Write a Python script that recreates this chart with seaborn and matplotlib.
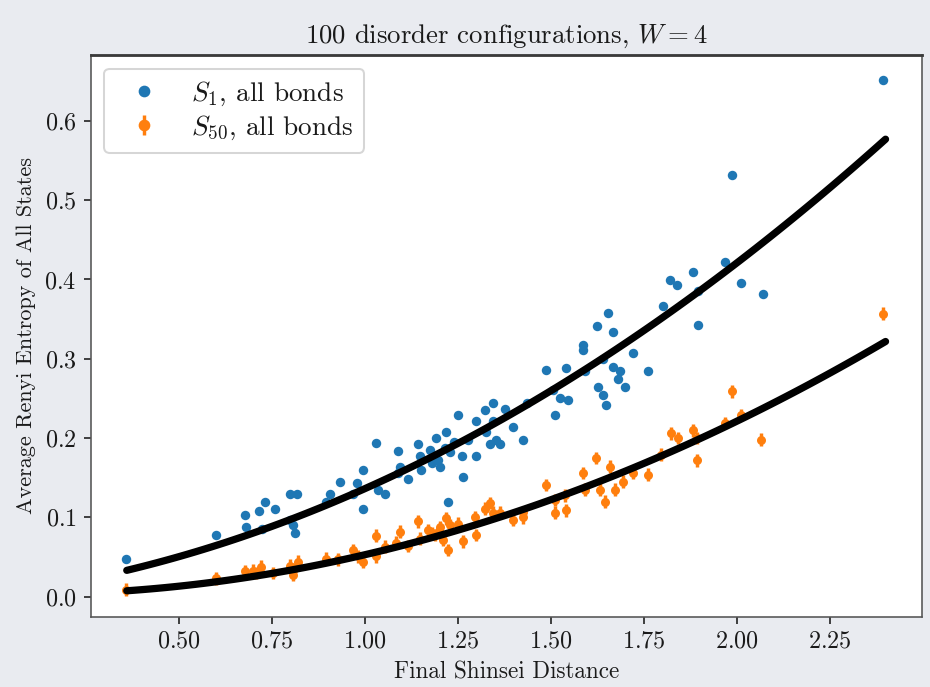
import matplotlib
matplotlib.use("Agg")
import matplotlib.pyplot as plt
from matplotlib.lines import Line2D
import seaborn as sns

# ---------------- data ----------------
s1_x = [0.359, 0.601, 0.679, 0.681, 0.715, 0.731, 0.758, 0.724, 0.798, 0.819,
        0.807, 0.811, 0.798, 0.897, 0.906, 0.933, 0.969, 0.978, 0.995, 0.995,
        1.031, 1.035, 1.053, 1.090, 1.094, 1.090, 1.116, 1.143, 1.148, 1.152,
        1.174, 1.180, 1.192, 1.197, 1.201, 1.215, 1.219, 1.224, 1.230, 1.240,
        1.251, 1.260, 1.264, 1.278, 1.300, 1.300, 1.323, 1.345, 1.327, 1.336,
        1.345, 1.354, 1.363, 1.376, 1.399, 1.426, 1.435, 1.488, 1.506, 1.511,
        1.524, 1.546, 1.542, 1.587, 1.587, 1.591, 1.623, 1.627, 1.640, 1.640,
        1.649, 1.654, 1.666, 1.667, 1.681, 1.685, 1.700, 1.721, 1.761, 1.802,
        1.820, 1.838, 1.883, 1.896, 1.896, 1.968, 1.986, 2.012, 2.070, 2.393]
s1_y = [0.047, 0.078, 0.103, 0.088, 0.108, 0.120, 0.110, 0.086, 0.130, 0.130,
        0.090, 0.080, 0.097, 0.120, 0.130, 0.145, 0.130, 0.143, 0.160, 0.111,
        0.194, 0.135, 0.130, 0.184, 0.164, 0.156, 0.149, 0.193, 0.177, 0.160,
        0.185, 0.168, 0.200, 0.172, 0.164, 0.187, 0.208, 0.120, 0.182, 0.195,
        0.229, 0.177, 0.151, 0.198, 0.221, 0.178, 0.235, 0.244, 0.208, 0.193,
        0.221, 0.198, 0.193, 0.237, 0.214, 0.198, 0.244, 0.286, 0.261, 0.229,
        0.250, 0.248, 0.288, 0.317, 0.311, 0.284, 0.341, 0.265, 0.300, 0.254,
        0.242, 0.358, 0.334, 0.290, 0.275, 0.284, 0.265, 0.307, 0.284, 0.366,
        0.399, 0.393, 0.410, 0.385, 0.343, 0.422, 0.532, 0.396, 0.382, 0.652]

s50_x = [0.359, 0.601, 0.677, 0.700, 0.708, 0.722, 0.753, 0.798, 0.807, 0.810,
         0.820, 0.897, 0.928, 0.969, 0.983, 0.995, 1.031, 1.031, 1.053, 1.085,
         1.094, 1.116, 1.143, 1.148, 1.170, 1.180, 1.188, 1.200, 1.201, 1.210,
         1.219, 1.224, 1.230, 1.251, 1.264, 1.296, 1.300, 1.323, 1.336, 1.345,
         1.363, 1.399, 1.426, 1.426, 1.488, 1.511, 1.511, 1.542, 1.537, 1.587,
         1.591, 1.622, 1.631, 1.645, 1.658, 1.672, 1.694, 1.721, 1.761, 1.797,
         1.824, 1.842, 1.883, 1.892, 1.892, 1.968, 1.986, 2.012, 2.066, 2.393]
s50_y = [0.009, 0.023, 0.032, 0.033, 0.030, 0.038, 0.030, 0.039, 0.028, 0.035,
         0.044, 0.048, 0.047, 0.059, 0.051, 0.044, 0.077, 0.051, 0.063, 0.068,
         0.082, 0.064, 0.095, 0.073, 0.084, 0.080, 0.078, 0.083, 0.088, 0.072,
         0.099, 0.059, 0.090, 0.092, 0.070, 0.100, 0.078, 0.111, 0.118, 0.106,
         0.106, 0.097, 0.100, 0.107, 0.141, 0.122, 0.106, 0.109, 0.128, 0.156,
         0.135, 0.175, 0.135, 0.120, 0.164, 0.135, 0.145, 0.156, 0.154, 0.179,
         0.206, 0.200, 0.210, 0.200, 0.172, 0.219, 0.259, 0.229, 0.198, 0.357]

s1_err = 0.004
s50_err = 0.008

# points on the fitted curves
fit1_x = [0.36, 0.50, 0.72, 0.99, 1.20, 1.35, 1.52, 1.74, 1.88, 2.03, 2.17, 2.30, 2.40]
fit1_y = [0.033, 0.050, 0.085, 0.135, 0.181, 0.217, 0.264, 0.332, 0.380, 0.431, 0.487, 0.537, 0.574]
fit50_x = [0.36, 0.48, 0.60, 0.72, 0.99, 1.20, 1.35, 1.49, 1.62, 1.76, 1.89, 2.03, 2.20, 2.40]
fit50_y = [0.008, 0.011, 0.019, 0.028, 0.053, 0.076, 0.097, 0.121, 0.144, 0.169, 0.197, 0.228, 0.272, 0.320]

labels = [r"$S_1$, all bonds", r"$S_{50}$, all bonds"]
title = r"100 disorder configurations, $W = 4$"
xlabel = "Final Shinsei Distance"
ylabel = "Average Renyi Entropy of All States"

# ---------------- style ----------------
sns.set_style("ticks")
plt.rcParams.update({
    "font.family": "serif",
    "font.serif": ["cmr10", "DejaVu Serif"],
    "mathtext.fontset": "cm",
    "axes.formatter.use_mathtext": True,
    "axes.unicode_minus": False,
    "font.size": 11,
    "xtick.labelsize": 12,
    "ytick.labelsize": 12,
    "xtick.major.size": 3.5,
    "ytick.major.size": 3.5,
    "xtick.major.width": 0.8,
    "ytick.major.width": 0.8,
    "axes.linewidth": 0.8,
    "axes.edgecolor": "#555555",
    "text.color": "#1a1a1a",
    "axes.labelcolor": "#1a1a1a",
    "xtick.color": "#1a1a1a",
    "ytick.color": "#1a1a1a",
})

c0 = "#1f77b4"
c1 = "#ff7f0e"

fig = plt.figure(figsize=(930 / 145, 687 / 145), dpi=145, facecolor="#e9ebf0")
ax = fig.add_axes([0.0975, 0.1023, 0.8935, 0.8176])
ax.set_facecolor("white")

ax.errorbar(s1_x, s1_y, yerr=s1_err, fmt="none", ecolor=c0, elinewidth=1.4, capsize=0, zorder=2)
ax.errorbar(s50_x, s50_y, yerr=s50_err, fmt="none", ecolor=c1, elinewidth=1.7, capsize=0, zorder=2)
sns.scatterplot(x=s1_x, y=s1_y, color=c0, s=22, linewidth=0, ax=ax, zorder=2.5)
sns.scatterplot(x=s50_x, y=s50_y, color=c1, s=20, linewidth=0, ax=ax, zorder=2.5)

# smooth quadratic curves through the read curve points
sns.regplot(x=fit1_x, y=fit1_y, order=2, ci=None, scatter=False, truncate=True,
            line_kws=dict(color="black", lw=3.6, zorder=3), ax=ax)
sns.regplot(x=fit50_x, y=fit50_y, order=2, ci=None, scatter=False, truncate=True,
            line_kws=dict(color="black", lw=3.6, zorder=3), ax=ax)

ax.set_xlim(0.263, 2.497)
ax.set_ylim(-0.0252, 0.683)

handles = [
    Line2D([], [], ls="none", marker="o", ms=4.8, color=c0, mec=c0),
    (Line2D([], [], ls="none", marker="|", ms=10, mew=1.7, color=c1),
     Line2D([], [], ls="none", marker="o", ms=4.8, color=c1, mec=c1)),
]
ax.legend(handles, labels, loc="upper left", fontsize=13.5,
          handlelength=2.1, handletextpad=0.7, labelspacing=0.2,
          borderpad=0.4, frameon=True)

ax.set_title(title, fontsize=13.3, pad=6)
ax.set_xlabel(xlabel, fontsize=11.5)
ax.set_ylabel(ylabel, fontsize=11)

for sp in ax.spines.values():
    sp.set_visible(True)
ax.spines["top"].set_linewidth(1.4)
ax.spines["top"].set_color("#3a3a3a")

fig.savefig("out.png", dpi=145, facecolor=fig.get_facecolor())
